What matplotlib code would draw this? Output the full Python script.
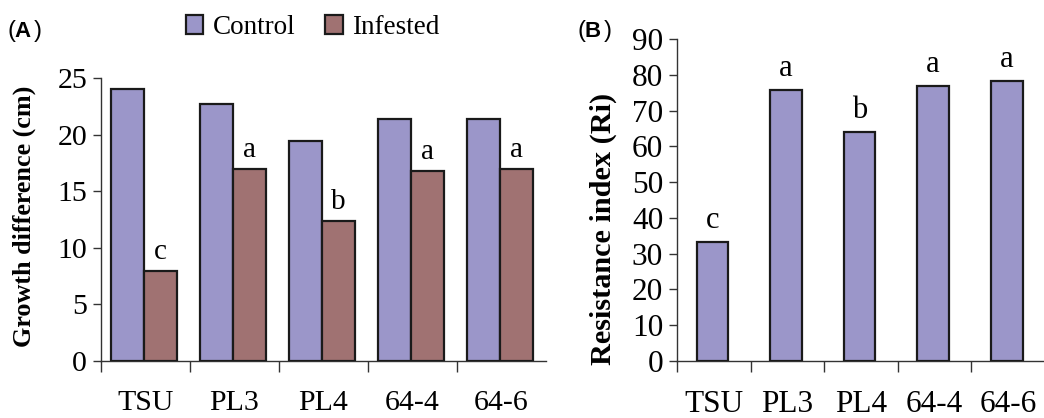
import numpy as np
import matplotlib
matplotlib.use("Agg")
import matplotlib.pyplot as plt
from matplotlib.patches import Patch

plt.rcParams["font.family"] = ["Liberation Serif", "DejaVu Serif"]

lines = ["TSU", "PL3", "PL4", "64-4", "64-6"]
control = [24.0, 22.7, 19.4, 21.4, 21.4]
infested = [7.95, 17.0, 12.4, 16.8, 17.0]
infested_letters = ["c", "a", "b", "a", "a"]
resistance = [33.3, 75.7, 63.9, 76.9, 78.2]
resistance_letters = ["c", "a", "b", "a", "a"]

c_ctrl = "#9b96c9"
c_inf = "#a07272"
edge = "#1a1a1a"

fig = plt.figure(figsize=(10.44, 4.18), dpi=100)
axA = fig.add_axes([0.0967, 0.1364, 0.4263, 0.677])
axB = fig.add_axes([0.6485, 0.1364, 0.3525, 0.7703])


def style_axis(ax, n, ylim, yticks, fs):
    x = np.arange(n)
    ax.set_xlim(-0.5, n - 0.5)
    ax.set_ylim(*ylim)
    ax.set_yticks(yticks)
    ax.set_xticks(x - 0.5)
    ax.set_xticklabels([])
    ax.set_xticks(x, minor=True)
    ax.set_xticklabels(lines, minor=True, fontsize=fs)
    ax.tick_params(axis="x", which="major", direction="out", length=8,
                   width=1, color="#333333")
    ax.tick_params(axis="x", which="minor", length=0, pad=21)
    ax.tick_params(axis="y", direction="out", length=6, width=1,
                   color="#333333", labelsize=fs, pad=4)
    for s in ["top", "right"]:
        ax.spines[s].set_visible(False)
    for s in ["left", "bottom"]:
        ax.spines[s].set_color("#333333")
        ax.spines[s].set_linewidth(1)


# panel A
x = np.arange(len(lines))
w = 0.37
axA.bar(x - w / 2 - 0.02, control, w, color=c_ctrl, edgecolor=edge,
        linewidth=1.6, label="Control", zorder=3)
axA.bar(x + w / 2 - 0.02, infested, w, color=c_inf, edgecolor=edge,
        linewidth=1.6, label="Infested", zorder=3)
for xi, v, t in zip(x, infested, infested_letters):
    axA.text(xi + w / 2 - 0.02, v + 0.5, t, ha="center", va="bottom",
             fontsize=21)
style_axis(axA, len(lines), (0, 25), np.arange(0, 26, 5), 21.5)
axA.set_ylabel("Growth difference (cm)", fontsize=18.8, fontweight="bold")
axA.yaxis.set_label_coords(-0.146, 0.512)

# panel B
wb = 0.43
axB.bar(x - 0.02, resistance, wb, color=c_ctrl, edgecolor=edge,
        linewidth=1.6, zorder=3)
for xi, v, t in zip(x, resistance, resistance_letters):
    axB.text(xi - 0.02, v + 2, t, ha="center", va="bottom", fontsize=22)
style_axis(axB, len(lines), (0, 90), np.arange(0, 91, 10), 22.5)
axB.set_ylabel("Resistance index (Ri)", fontsize=21.8, fontweight="bold")
axB.yaxis.set_label_coords(-0.164, 0.41)

# legend
handles = [Patch(facecolor=c_ctrl, edgecolor=edge, linewidth=1.6),
           Patch(facecolor=c_inf, edgecolor=edge, linewidth=1.6)]
fig.legend(handles, ["Control", "Infested"], loc="center",
           bbox_to_anchor=(0.2995, 0.934), ncol=2, frameon=False,
           fontsize=19.5, handlelength=0.65, handleheight=0.7,
           handletextpad=0.35, columnspacing=1.1, borderpad=0)

# panel labels
for xp, letter in [(0.007, "A"), (0.553, "B")]:
    fig.text(xp, 0.925, "(", fontsize=17, va="center", ha="left",
             family="Liberation Sans")
    fig.text(xp + 0.0068, 0.925, letter, fontsize=16, fontweight="bold",
             family="Liberation Sans", va="center", ha="left")
    fig.text(xp + 0.0068 + 0.0185, 0.925, ")", fontsize=17, va="center",
             ha="left", family="Liberation Sans")

fig.savefig("out.png", dpi=100)
